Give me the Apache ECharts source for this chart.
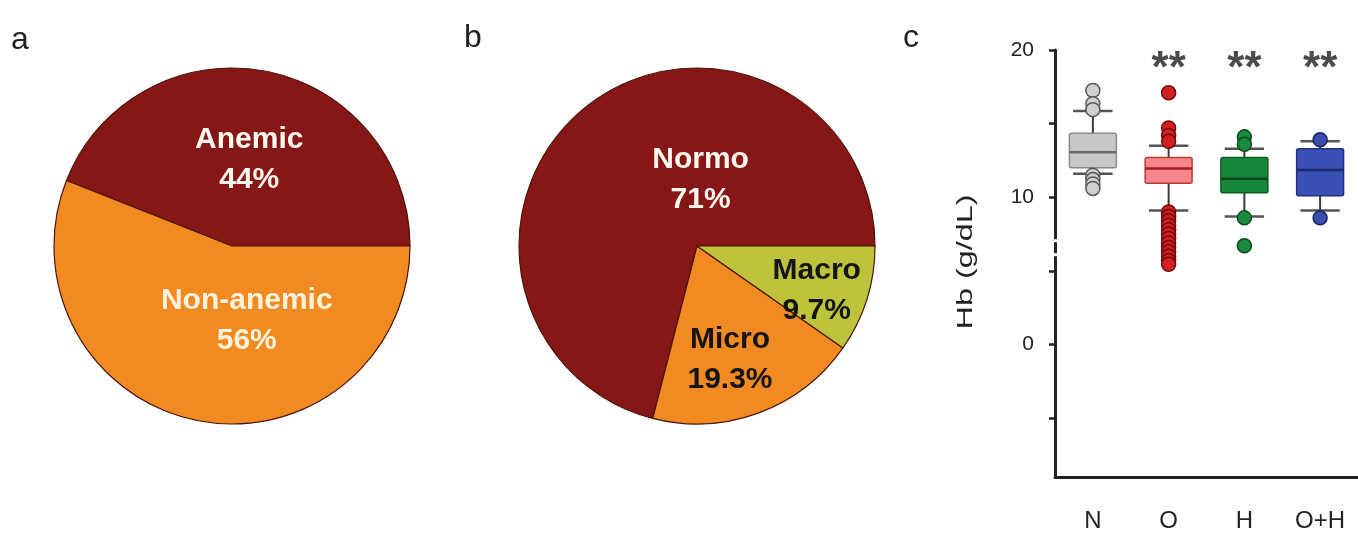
<!DOCTYPE html>
<html>
<head>
<meta charset="utf-8">
<title>Anemia prevalence and Hb by group</title>
<script src="https://cdn.jsdelivr.net/npm/echarts@6/dist/echarts.min.js"></script>
<style>
  html, body { margin: 0; padding: 0; background: #ffffff; }
  #chart { width: 1358px; height: 534px; }
</style>
</head>
<body>
<div id="chart"></div>
<script>
// ---- data ----
const anemiaCategories = ['Anemic', 'Non-anemic'];
const anemiaPercent = [44, 56];

const morphologyCategories = ['Normo', 'Micro', 'Macro'];
const morphologyPercent = [71, 19.3, 9.7];

const groups = ['N', 'O', 'H', 'O+H'];
// box statistics per group (g/dL)
const hbLowerWhisker = [11.6, 9.1, 8.7, 9.1];
const hbQ1 = [12.0, 10.95, 10.3, 10.1];
const hbMedian = [13.05, 11.95, 11.25, 11.85];
const hbQ3 = [14.35, 12.7, 12.7, 13.3];
const hbUpperWhisker = [15.85, 13.5, 13.3, 13.8];
// outlying points per group
const outliersN = [17.25, 16.35, 15.95, 11.5, 11.2, 10.9, 10.6];
const outliersO = [17.1, 14.7, 14.2, 13.8, 9.0, 8.7, 8.4, 8.1, 7.8, 7.5, 7.2, 6.9, 6.6, 6.3, 6.0, 5.7, 5.45];
const outliersH = [14.1, 13.6, 8.6, 6.7];
const outliersOH = [13.9, 8.6];
const significance = ['', '**', '**', '**'];
const significanceLevel = 18.9;

const yTickValues = [-5, 0, 5, 10, 15, 20];
const yLabelValues = [0, 10, 20];
const yMin = -9, yMax = 20;
const axisBreakValues = [7.05, 6.1];

// ---- styles ----
const FONT = '"Liberation Sans", Arial, Helvetica, sans-serif';
const DARK_RED = '#871616';
const ORANGE = '#F28A22';
const OLIVE = '#BDC33A';
const PIE_EDGE = '#4a140a';

const boxStyles = [
  { fill: '#c7c7c7', stroke: '#8a8a8a', median: '#6a6a6a', dot: '#d0d0d0', dotEdge: '#5a5a5a' },
  { fill: '#f3878b', stroke: '#c23a35', median: '#a51c1c', dot: '#d41f1f', dotEdge: '#6e0c0c' },
  { fill: '#16883a', stroke: '#0c5a24', median: '#0a431b', dot: '#1a8a3d', dotEdge: '#0b4a20' },
  { fill: '#3b50b7', stroke: '#22307c', median: '#1b276a', dot: '#3a4cae', dotEdge: '#1a2566' }
];
const outlierSets = [outliersN, outliersO, outliersH, outliersOH];

// label nudges inside the pies (dx, dy)
const anemiaLabelShift = [[0, 4], [32, -16]];
const morphologyLabelShift = [[60, 6], [1, 27], [32, 17]];
const anemiaLabelColor = ['#fff8ee', '#fff3dc'];
const morphologyLabelColor = ['#fff8ee', '#151515', '#151515'];

const GRID_LEFT = 1055, GRID_TOP = 50, GRID_WIDTH = 305, GRID_BOTTOM = 57;

const chart = echarts.init(document.getElementById('chart'), null, { renderer: 'canvas' });

function pieLabel(color) {
  return {
    show: true, position: 'inside', color: color,
    fontFamily: FONT, fontWeight: 'bold', fontSize: 30, lineHeight: 40,
    formatter: '{b}\n{c}%'
  };
}

const anemiaData = anemiaCategories.map((name, i) => ({
  name, value: anemiaPercent[i],
  itemStyle: { color: [DARK_RED, ORANGE][i] },
  label: pieLabel(anemiaLabelColor[i])
}));
const morphologyData = morphologyCategories.map((name, i) => ({
  name, value: morphologyPercent[i],
  itemStyle: { color: [DARK_RED, ORANGE, OLIVE][i] },
  label: pieLabel(morphologyLabelColor[i])
}));

const boxData = groups.map((g, i) => [i, hbLowerWhisker[i], hbQ1[i], hbMedian[i], hbQ3[i], hbUpperWhisker[i]]);

function renderBox(params, api) {
  const x = api.value(0);
  const lo = api.coord([x, api.value(1)]);
  const q1 = api.coord([x, api.value(2)]);
  const md = api.coord([x, api.value(3)]);
  const q3 = api.coord([x, api.value(4)]);
  const hi = api.coord([x, api.value(5)]);
  const band = api.size([1, 0])[0];
  const bw = band * 0.62, cw = band * 0.52;
  const cx = lo[0];
  const st = boxStyles[params.dataIndex];
  const whisker = { stroke: '#3a3a3a', lineWidth: 2 };
  const cap = { stroke: '#555555', lineWidth: 2.5 };
  return {
    type: 'group',
    children: [
      { type: 'line', shape: { x1: cx, y1: lo[1], x2: cx, y2: q1[1] }, style: whisker },
      { type: 'line', shape: { x1: cx, y1: q3[1], x2: cx, y2: hi[1] }, style: whisker },
      { type: 'line', shape: { x1: cx - cw / 2, y1: lo[1], x2: cx + cw / 2, y2: lo[1] }, style: cap },
      { type: 'line', shape: { x1: cx - cw / 2, y1: hi[1], x2: cx + cw / 2, y2: hi[1] }, style: cap },
      { type: 'rect', shape: { x: cx - bw / 2, y: q3[1], width: bw, height: q1[1] - q3[1], r: 2 },
        style: { fill: st.fill, stroke: st.stroke, lineWidth: 1.5 } },
      { type: 'line', shape: { x1: cx - bw / 2, y1: md[1], x2: cx + bw / 2, y2: md[1] },
        style: { stroke: st.median, lineWidth: 2.5 } }
    ]
  };
}

// short white gaps interrupting the y axis line
function renderAxisGap(params, api) {
  const p = api.coord([0, api.value(0)]);
  const left = params.coordSys.x;
  return { type: 'rect', shape: { x: left - 3, y: p[1] - 1.5, width: 6, height: 3 }, style: { fill: '#ffffff' } };
}

const outlierSeries = outlierSets.map((vals, i) => ({
  type: 'scatter',
  xAxisIndex: 0, yAxisIndex: 0,
  symbol: 'circle', symbolSize: 14,
  itemStyle: { color: boxStyles[i].dot, borderColor: boxStyles[i].dotEdge, borderWidth: 1.5, opacity: 1 },
  data: vals.map(v => [i, v]),
  z: 5
}));

const option = {
  animation: false,
  backgroundColor: '#ffffff',
  grid: { left: GRID_LEFT, top: GRID_TOP, width: GRID_WIDTH, bottom: GRID_BOTTOM, containLabel: false },
  xAxis: {
    type: 'category', data: groups, boundaryGap: true,
    axisLine: { onZero: false, lineStyle: { color: '#222', width: 3 } },
    axisTick: { alignWithLabel: true, length: 6, lineStyle: { color: '#222', width: 2.5 } },
    axisLabel: { color: '#222', fontFamily: FONT, fontSize: 24, margin: 32 },
    splitLine: { show: false }
  },
  yAxis: {
    type: 'value', min: yMin, max: yMax,
    axisLine: { show: true, lineStyle: { color: '#222', width: 3 } },
    axisTick: { show: true, customValues: yTickValues, length: 6, lineStyle: { color: '#222', width: 2.5 } },
    axisLabel: { customValues: yLabelValues, color: '#222', fontFamily: FONT, fontSize: 21, margin: 21 },
    splitLine: { show: false }
  },
  series: [
    {
      type: 'pie', center: [232, 246], radius: [0, 178],
      startAngle: 0, clockwise: false, avoidLabelOverlap: false, silent: true,
      itemStyle: { borderColor: PIE_EDGE, borderWidth: 1.2 },
      labelLine: { show: false },
      labelLayout: p => ({ dx: anemiaLabelShift[p.dataIndex][0], dy: anemiaLabelShift[p.dataIndex][1] }),
      data: anemiaData
    },
    {
      type: 'pie', center: [697, 246], radius: [0, 178],
      startAngle: 0, clockwise: false, avoidLabelOverlap: false, silent: true,
      itemStyle: { borderColor: PIE_EDGE, borderWidth: 1.2 },
      labelLine: { show: false },
      labelLayout: p => ({ dx: morphologyLabelShift[p.dataIndex][0], dy: morphologyLabelShift[p.dataIndex][1] }),
      data: morphologyData
    },
    {
      type: 'custom', xAxisIndex: 0, yAxisIndex: 0,
      renderItem: renderBox, data: boxData, z: 3, silent: true
    },
    ...outlierSeries,
    {
      type: 'scatter', xAxisIndex: 0, yAxisIndex: 0, symbolSize: 0, silent: true,
      data: significance.map((s, i) => [i, significanceLevel]).filter((d, i) => significance[i]),
      label: {
        show: true, position: 'inside', offset: [0, 4],
        formatter: p => significance[p.data[0]],
        color: '#1e1e1e', fontFamily: FONT, fontWeight: 'bold', fontSize: 44
      }
    },
    {
      type: 'custom', xAxisIndex: 0, yAxisIndex: 0, clip: false, silent: true, z: 10,
      renderItem: renderAxisGap, data: axisBreakValues.map(v => [v])
    }
  ],
  graphic: [
    { type: 'text', x: 11, y: 40, style: { text: 'a', font: '32px ' + FONT, fill: '#222', verticalAlign: 'middle' } },
    { type: 'text', x: 464, y: 38, style: { text: 'b', font: '32px ' + FONT, fill: '#222', verticalAlign: 'middle' } },
    { type: 'text', x: 903, y: 38, style: { text: 'c', font: '32px ' + FONT, fill: '#222', verticalAlign: 'middle' } },
    { type: 'text', x: 966, y: 262, rotation: Math.PI / 2, scaleX: 1.47,
      style: { text: 'Hb (g/dL)', font: '22px ' + FONT, fill: '#222', align: 'center', verticalAlign: 'middle' } }
  ]
};

chart.setOption(option);
</script>
</body>
</html>
